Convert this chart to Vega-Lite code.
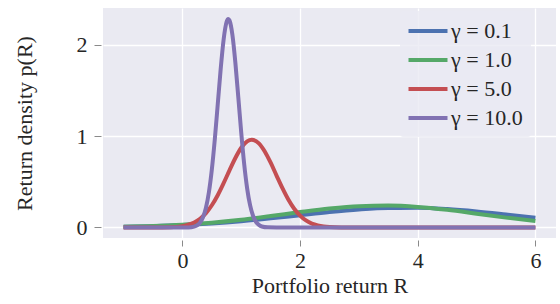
{
  "$schema": "https://vega.github.io/schema/vega-lite/v6.json",
  "width": 453,
  "height": 230,
  "autosize": "none",
  "padding": {"left": 103, "top": 8, "right": 4, "bottom": 66},
  "background": "white",
  "config": {
    "font": "Liberation Serif",
    "view": {"fill": "#EAEAF2", "stroke": null},
    "axis": {
      "domain": false,
      "grid": true,
      "gridColor": "white",
      "gridWidth": 1.3,
      "tickColor": "#8a8a8a",
      "tickWidth": 1,
      "labelFont": "Liberation Serif",
      "titleFont": "Liberation Serif",
      "labelFontSize": 22,
      "titleFontSize": 22,
      "titleFontWeight": "normal",
      "labelColor": "#262626",
      "titleColor": "#262626"
    }
  },
  "data": {
    "values": [
      {"s": "γ = 0.1", "x": -1, "y": 0.0075},
      {"s": "γ = 0.1", "x": -0.5, "y": 0.0145},
      {"s": "γ = 0.1", "x": 0, "y": 0.0262},
      {"s": "γ = 0.1", "x": 0.5, "y": 0.044},
      {"s": "γ = 0.1", "x": 1, "y": 0.0687},
      {"s": "γ = 0.1", "x": 1.5, "y": 0.0997},
      {"s": "γ = 0.1", "x": 2, "y": 0.1345},
      {"s": "γ = 0.1", "x": 2.5, "y": 0.1687},
      {"s": "γ = 0.1", "x": 3, "y": 0.1967},
      {"s": "γ = 0.1", "x": 3.5, "y": 0.2132},
      {"s": "γ = 0.1", "x": 4, "y": 0.2147},
      {"s": "γ = 0.1", "x": 4.5, "y": 0.2011},
      {"s": "γ = 0.1", "x": 5, "y": 0.175},
      {"s": "γ = 0.1", "x": 5.5, "y": 0.1416},
      {"s": "γ = 0.1", "x": 6, "y": 0.1065},
      {"s": "γ = 1.0", "x": -1, "y": 0.0072},
      {"s": "γ = 1.0", "x": -0.5, "y": 0.0152},
      {"s": "γ = 1.0", "x": 0, "y": 0.0294},
      {"s": "γ = 1.0", "x": 0.5, "y": 0.0522},
      {"s": "γ = 1.0", "x": 1, "y": 0.0844},
      {"s": "γ = 1.0", "x": 1.5, "y": 0.1247},
      {"s": "γ = 1.0", "x": 2, "y": 0.1682},
      {"s": "γ = 1.0", "x": 2.5, "y": 0.2072},
      {"s": "γ = 1.0", "x": 3, "y": 0.2331},
      {"s": "γ = 1.0", "x": 3.5, "y": 0.2396},
      {"s": "γ = 1.0", "x": 4, "y": 0.2248},
      {"s": "γ = 1.0", "x": 4.5, "y": 0.1927},
      {"s": "γ = 1.0", "x": 5, "y": 0.1508},
      {"s": "γ = 1.0", "x": 5.5, "y": 0.1078},
      {"s": "γ = 1.0", "x": 6, "y": 0.0704},
      {"s": "γ = 5.0", "x": -1, "y": 0},
      {"s": "γ = 5.0", "x": -0.5, "y": 0.0003},
      {"s": "γ = 5.0", "x": -0.2, "y": 0.003},
      {"s": "γ = 5.0", "x": 0, "y": 0.015},
      {"s": "γ = 5.0", "x": 0.1, "y": 0.03},
      {"s": "γ = 5.0", "x": 0.2, "y": 0.055},
      {"s": "γ = 5.0", "x": 0.3, "y": 0.096},
      {"s": "γ = 5.0", "x": 0.4, "y": 0.157},
      {"s": "γ = 5.0", "x": 0.5, "y": 0.243},
      {"s": "γ = 5.0", "x": 0.6, "y": 0.353},
      {"s": "γ = 5.0", "x": 0.7, "y": 0.484},
      {"s": "γ = 5.0", "x": 0.8, "y": 0.625},
      {"s": "γ = 5.0", "x": 0.9, "y": 0.76},
      {"s": "γ = 5.0", "x": 1.0, "y": 0.872},
      {"s": "γ = 5.0", "x": 1.1, "y": 0.942},
      {"s": "γ = 5.0", "x": 1.18, "y": 0.96},
      {"s": "γ = 5.0", "x": 1.3, "y": 0.92},
      {"s": "γ = 5.0", "x": 1.4, "y": 0.831},
      {"s": "γ = 5.0", "x": 1.5, "y": 0.708},
      {"s": "γ = 5.0", "x": 1.6, "y": 0.568},
      {"s": "γ = 5.0", "x": 1.7, "y": 0.43},
      {"s": "γ = 5.0", "x": 1.8, "y": 0.306},
      {"s": "γ = 5.0", "x": 1.9, "y": 0.205},
      {"s": "γ = 5.0", "x": 2.0, "y": 0.13},
      {"s": "γ = 5.0", "x": 2.1, "y": 0.077},
      {"s": "γ = 5.0", "x": 2.2, "y": 0.043},
      {"s": "γ = 5.0", "x": 2.3, "y": 0.023},
      {"s": "γ = 5.0", "x": 2.4, "y": 0.011},
      {"s": "γ = 5.0", "x": 2.5, "y": 0.005},
      {"s": "γ = 5.0", "x": 2.7, "y": 0.001},
      {"s": "γ = 5.0", "x": 3, "y": 0},
      {"s": "γ = 5.0", "x": 6, "y": 0},
      {"s": "γ = 10.0", "x": -1, "y": 0},
      {"s": "γ = 10.0", "x": 0, "y": 0},
      {"s": "γ = 10.0", "x": 0.1, "y": 0.0006},
      {"s": "γ = 10.0", "x": 0.2, "y": 0.0094},
      {"s": "γ = 10.0", "x": 0.25, "y": 0.023},
      {"s": "γ = 10.0", "x": 0.3, "y": 0.053},
      {"s": "γ = 10.0", "x": 0.35, "y": 0.111},
      {"s": "γ = 10.0", "x": 0.4, "y": 0.216},
      {"s": "γ = 10.0", "x": 0.45, "y": 0.385},
      {"s": "γ = 10.0", "x": 0.5, "y": 0.634},
      {"s": "γ = 10.0", "x": 0.55, "y": 0.961},
      {"s": "γ = 10.0", "x": 0.6, "y": 1.343},
      {"s": "γ = 10.0", "x": 0.65, "y": 1.73},
      {"s": "γ = 10.0", "x": 0.7, "y": 2.054},
      {"s": "γ = 10.0", "x": 0.75, "y": 2.247},
      {"s": "γ = 10.0", "x": 0.78, "y": 2.28},
      {"s": "γ = 10.0", "x": 0.8, "y": 2.265},
      {"s": "γ = 10.0", "x": 0.85, "y": 2.105},
      {"s": "γ = 10.0", "x": 0.9, "y": 1.802},
      {"s": "γ = 10.0", "x": 0.95, "y": 1.422},
      {"s": "γ = 10.0", "x": 1.0, "y": 1.035},
      {"s": "γ = 10.0", "x": 1.05, "y": 0.693},
      {"s": "γ = 10.0", "x": 1.1, "y": 0.428},
      {"s": "γ = 10.0", "x": 1.15, "y": 0.244},
      {"s": "γ = 10.0", "x": 1.2, "y": 0.128},
      {"s": "γ = 10.0", "x": 1.25, "y": 0.062},
      {"s": "γ = 10.0", "x": 1.3, "y": 0.028},
      {"s": "γ = 10.0", "x": 1.35, "y": 0.011},
      {"s": "γ = 10.0", "x": 1.45, "y": 0.0015},
      {"s": "γ = 10.0", "x": 1.6, "y": 0},
      {"s": "γ = 10.0", "x": 6, "y": 0}
    ]
  },
  "mark": {"type": "line", "strokeWidth": 4, "interpolate": "monotone", "clip": true},
  "encoding": {
    "x": {
      "field": "x",
      "type": "quantitative",
      "scale": {"domain": [-1.35, 6.35], "nice": false, "zero": false},
      "axis": {"values": [0, 2, 4, 6], "title": "Portfolio return R", "tickSize": 6, "offset": 2, "labelPadding": 4, "titlePadding": 4}
    },
    "y": {
      "field": "y",
      "type": "quantitative",
      "scale": {"domain": [-0.115, 2.4], "nice": false, "zero": false},
      "axis": {"values": [0, 1, 2], "title": "Return density p(R)", "tickSize": 7, "offset": 2, "labelPadding": 7, "titlePadding": 40}
    },
    "color": {
      "field": "s",
      "type": "nominal",
      "sort": ["γ = 0.1", "γ = 1.0", "γ = 5.0", "γ = 10.0"],
      "scale": {"domain": ["γ = 0.1", "γ = 1.0", "γ = 5.0", "γ = 10.0"], "range": ["#4C72B0", "#55A868", "#C44E52", "#8172B2"]},
      "legend": {
        "title": null,
        "orient": "none",
        "legendX": 297,
        "legendY": 3,
        "fillColor": "rgba(234,234,242,0.8)",
        "strokeColor": null,
        "cornerRadius": 3,
        "padding": 8,
        "symbolType": "M-2,0H2",
        "symbolStrokeWidth": 4,
        "symbolSize": 380,
        "symbolOffset": 8,
        "labelFontSize": 22,
        "labelFont": "Liberation Serif",
        "labelColor": "#262626",
        "labelOffset": 11,
        "rowPadding": 6
      }
    }
  }
}
